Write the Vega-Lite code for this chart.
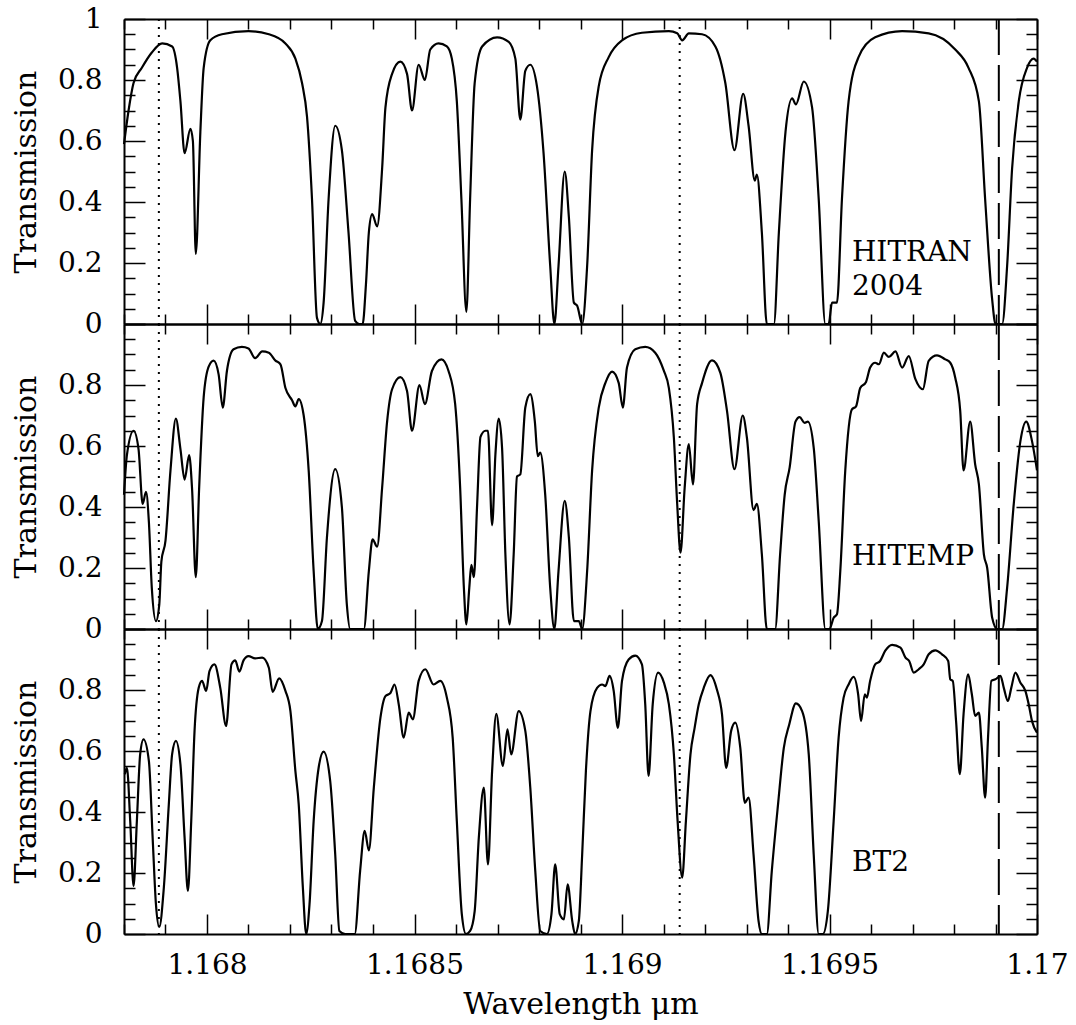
{
  "$schema": "https://vega.github.io/schema/vega-lite/v6.json",
  "padding": {"left": 11, "top": 5, "right": 5, "bottom": 2},
  "spacing": 0,
  "bounds": "flush",
  "config": {
    "view": {"stroke": null},
    "axis": {
      "labelFont": "DejaVu Serif", "titleFont": "DejaVu Serif",
      "labelFontSize": 28, "titleFontSize": 30, "titleFontWeight": "normal",
      "labelColor": "black", "titleColor": "black",
      "domainColor": "black", "domainWidth": 2, "tickColor": "black", "tickWidth": 1.5,
      "grid": false, "labelOverlap": false, "labelFlush": false, "labelBound": false
    }
  },
  "datasets": {
    "hitran": [
      {"w":1.1678,"t":0.59},{"w":1.167811,"t":0.70},{"w":1.167823,"t":0.79},{"w":1.167843,"t":0.84},{"w":1.167867,"t":0.89},{"w":1.167892,"t":0.92},{"w":1.167916,"t":0.91},{"w":1.167928,"t":0.84},{"w":1.167936,"t":0.73},{"w":1.167946,"t":0.56},{"w":1.16796,"t":0.64},{"w":1.167966,"t":0.60},{"w":1.167973,"t":0.23},{"w":1.167984,"t":0.63},{"w":1.167992,"t":0.84},{"w":1.168008,"t":0.93},{"w":1.168036,"t":0.95},{"w":1.1681,"t":0.96},{"w":1.168149,"t":0.95},{"w":1.168189,"t":0.92},{"w":1.168213,"t":0.87},{"w":1.168229,"t":0.79},{"w":1.168241,"t":0.68},{"w":1.168253,"t":0.41},{"w":1.168265,"t":0.02},{"w":1.168273,"t":0.0},{"w":1.168281,"t":0.07},{"w":1.168293,"t":0.41},{"w":1.168309,"t":0.65},{"w":1.168325,"t":0.57},{"w":1.168341,"t":0.30},{"w":1.168357,"t":0.01},{"w":1.168367,"t":0.0},{"w":1.168375,"t":0.0},{"w":1.168383,"t":0.13},{"w":1.16839,"t":0.30},{"w":1.168398,"t":0.36},{"w":1.16841,"t":0.32},{"w":1.168422,"t":0.51},{"w":1.16843,"t":0.71},{"w":1.168446,"t":0.82},{"w":1.168466,"t":0.86},{"w":1.168482,"t":0.82},{"w":1.168494,"t":0.70},{"w":1.16851,"t":0.85},{"w":1.168525,"t":0.80},{"w":1.168538,"t":0.90},{"w":1.168558,"t":0.92},{"w":1.168578,"t":0.91},{"w":1.16859,"t":0.87},{"w":1.168602,"t":0.73},{"w":1.168613,"t":0.41},{"w":1.168625,"t":0.04},{"w":1.168634,"t":0.41},{"w":1.168645,"t":0.79},{"w":1.168663,"t":0.91},{"w":1.168699,"t":0.94},{"w":1.168727,"t":0.925},{"w":1.168743,"t":0.87},{"w":1.168755,"t":0.67},{"w":1.168767,"t":0.83},{"w":1.168779,"t":0.85},{"w":1.168795,"t":0.78},{"w":1.168811,"t":0.56},{"w":1.168827,"t":0.19},{"w":1.168837,"t":0.0},{"w":1.168847,"t":0.19},{"w":1.168862,"t":0.50},{"w":1.168872,"t":0.35},{"w":1.168884,"t":0.07},{"w":1.168892,"t":0.06},{"w":1.168904,"t":0.0},{"w":1.168916,"t":0.19},{"w":1.168928,"t":0.57},{"w":1.168944,"t":0.78},{"w":1.168968,"t":0.875},{"w":1.169,"t":0.93},{"w":1.169048,"t":0.955},{"w":1.169113,"t":0.96},{"w":1.169133,"t":0.953},{"w":1.169145,"t":0.93},{"w":1.169161,"t":0.953},{"w":1.169193,"t":0.95},{"w":1.169225,"t":0.91},{"w":1.169249,"t":0.79},{"w":1.169271,"t":0.57},{"w":1.169292,"t":0.755},{"w":1.169305,"t":0.65},{"w":1.16932,"t":0.47},{"w":1.169325,"t":0.49},{"w":1.169337,"t":0.30},{"w":1.169349,"t":0.0},{"w":1.169366,"t":0.0},{"w":1.169378,"t":0.30},{"w":1.169394,"t":0.63},{"w":1.16941,"t":0.74},{"w":1.169419,"t":0.72},{"w":1.169438,"t":0.795},{"w":1.169458,"t":0.71},{"w":1.169474,"t":0.41},{"w":1.16949,"t":0.0},{"w":1.169498,"t":0.0},{"w":1.169506,"t":0.07},{"w":1.169518,"t":0.07},{"w":1.16953,"t":0.41},{"w":1.169546,"t":0.73},{"w":1.16957,"t":0.875},{"w":1.16961,"t":0.94},{"w":1.169675,"t":0.96},{"w":1.169739,"t":0.953},{"w":1.169803,"t":0.90},{"w":1.169835,"t":0.84},{"w":1.16986,"t":0.73},{"w":1.169875,"t":0.41},{"w":1.169892,"t":0.08},{"w":1.1699,"t":0.0},{"w":1.169916,"t":0.0},{"w":1.169928,"t":0.19},{"w":1.16994,"t":0.51},{"w":1.169956,"t":0.73},{"w":1.169976,"t":0.84},{"w":1.169992,"t":0.87},{"w":1.17,"t":0.86}
    ],
    "hitemp": [
      {"w":1.1678,"t":0.44},{"w":1.167807,"t":0.57},{"w":1.167823,"t":0.65},{"w":1.167835,"t":0.59},{"w":1.167845,"t":0.41},{"w":1.167853,"t":0.45},{"w":1.16786,"t":0.35},{"w":1.167867,"t":0.135},{"w":1.167877,"t":0.026},{"w":1.167885,"t":0.08},{"w":1.16789,"t":0.22},{"w":1.1679,"t":0.29},{"w":1.167912,"t":0.52},{"w":1.167925,"t":0.69},{"w":1.167936,"t":0.59},{"w":1.167946,"t":0.49},{"w":1.167957,"t":0.57},{"w":1.167964,"t":0.46},{"w":1.167973,"t":0.17},{"w":1.167981,"t":0.46},{"w":1.167992,"t":0.76},{"w":1.168004,"t":0.86},{"w":1.168016,"t":0.88},{"w":1.168028,"t":0.835},{"w":1.168038,"t":0.726},{"w":1.168048,"t":0.846},{"w":1.168064,"t":0.917},{"w":1.168084,"t":0.925},{"w":1.1681,"t":0.92},{"w":1.168116,"t":0.888},{"w":1.168133,"t":0.91},{"w":1.168149,"t":0.906},{"w":1.168165,"t":0.88},{"w":1.168177,"t":0.868},{"w":1.168189,"t":0.79},{"w":1.168205,"t":0.75},{"w":1.168213,"t":0.73},{"w":1.168221,"t":0.754},{"w":1.168233,"t":0.70},{"w":1.168245,"t":0.52},{"w":1.168257,"t":0.19},{"w":1.168267,"t":0.0},{"w":1.168277,"t":0.026},{"w":1.168289,"t":0.30},{"w":1.168309,"t":0.524},{"w":1.168325,"t":0.40},{"w":1.168337,"t":0.08},{"w":1.168345,"t":0.0},{"w":1.168357,"t":0.0},{"w":1.168378,"t":0.0},{"w":1.16839,"t":0.19},{"w":1.168399,"t":0.294},{"w":1.16841,"t":0.27},{"w":1.168422,"t":0.463},{"w":1.168434,"t":0.68},{"w":1.168446,"t":0.786},{"w":1.168466,"t":0.826},{"w":1.168482,"t":0.78},{"w":1.168494,"t":0.65},{"w":1.168512,"t":0.80},{"w":1.168525,"t":0.737},{"w":1.168542,"t":0.846},{"w":1.168565,"t":0.884},{"w":1.168582,"t":0.846},{"w":1.168598,"t":0.737},{"w":1.16861,"t":0.463},{"w":1.168619,"t":0.135},{"w":1.168625,"t":0.015},{"w":1.168632,"t":0.135},{"w":1.168637,"t":0.21},{"w":1.168643,"t":0.17},{"w":1.168651,"t":0.41},{"w":1.168659,"t":0.63},{"w":1.168671,"t":0.65},{"w":1.168677,"t":0.65},{"w":1.168687,"t":0.34},{"w":1.168695,"t":0.573},{"w":1.168703,"t":0.69},{"w":1.168711,"t":0.594},{"w":1.168719,"t":0.245},{"w":1.168729,"t":0.015},{"w":1.168739,"t":0.245},{"w":1.168747,"t":0.50},{"w":1.168755,"t":0.507},{"w":1.168767,"t":0.726},{"w":1.168779,"t":0.77},{"w":1.16879,"t":0.68},{"w":1.168797,"t":0.567},{"w":1.168803,"t":0.578},{"w":1.168815,"t":0.44},{"w":1.168827,"t":0.135},{"w":1.168837,"t":0.0},{"w":1.168847,"t":0.19},{"w":1.168862,"t":0.42},{"w":1.168872,"t":0.30},{"w":1.168884,"t":0.026},{"w":1.168896,"t":0.026},{"w":1.168904,"t":0.0},{"w":1.168916,"t":0.19},{"w":1.168928,"t":0.52},{"w":1.168944,"t":0.726},{"w":1.16896,"t":0.807},{"w":1.168976,"t":0.844},{"w":1.168992,"t":0.807},{"w":1.169002,"t":0.726},{"w":1.169012,"t":0.857},{"w":1.169032,"t":0.917},{"w":1.169056,"t":0.925},{"w":1.16908,"t":0.906},{"w":1.169101,"t":0.846},{"w":1.169113,"t":0.79},{"w":1.169125,"t":0.627},{"w":1.169133,"t":0.41},{"w":1.169141,"t":0.25},{"w":1.169151,"t":0.463},{"w":1.169161,"t":0.606},{"w":1.169171,"t":0.474},{"w":1.169181,"t":0.737},{"w":1.169193,"t":0.807},{"w":1.169217,"t":0.881},{"w":1.169237,"t":0.84},{"w":1.169253,"t":0.715},{"w":1.169271,"t":0.524},{"w":1.169291,"t":0.70},{"w":1.169301,"t":0.627},{"w":1.169317,"t":0.39},{"w":1.169325,"t":0.41},{"w":1.169337,"t":0.245},{"w":1.169349,"t":0.0},{"w":1.169369,"t":0.0},{"w":1.169381,"t":0.245},{"w":1.169392,"t":0.44},{"w":1.169404,"t":0.53},{"w":1.169418,"t":0.68},{"w":1.169428,"t":0.695},{"w":1.16944,"t":0.676},{"w":1.169448,"t":0.68},{"w":1.169462,"t":0.594},{"w":1.169474,"t":0.354},{"w":1.16949,"t":0.0},{"w":1.1695,"t":0.0},{"w":1.16951,"t":0.037},{"w":1.169518,"t":0.048},{"w":1.169526,"t":0.19},{"w":1.169538,"t":0.52},{"w":1.169554,"t":0.72},{"w":1.169564,"t":0.73},{"w":1.169574,"t":0.79},{"w":1.169588,"t":0.81},{"w":1.169598,"t":0.857},{"w":1.16961,"t":0.873},{"w":1.169619,"t":0.868},{"w":1.169631,"t":0.906},{"w":1.169643,"t":0.892},{"w":1.169659,"t":0.91},{"w":1.169675,"t":0.857},{"w":1.169691,"t":0.895},{"w":1.169707,"t":0.819},{"w":1.169725,"t":0.786},{"w":1.169739,"t":0.879},{"w":1.169759,"t":0.897},{"w":1.169779,"t":0.884},{"w":1.169791,"t":0.873},{"w":1.169803,"t":0.824},{"w":1.169815,"t":0.715},{"w":1.169823,"t":0.52},{"w":1.169839,"t":0.68},{"w":1.169851,"t":0.54},{"w":1.16986,"t":0.474},{"w":1.169872,"t":0.245},{"w":1.16988,"t":0.20},{"w":1.169892,"t":0.037},{"w":1.169904,"t":0.0},{"w":1.169916,"t":0.0},{"w":1.169928,"t":0.135},{"w":1.169944,"t":0.41},{"w":1.16996,"t":0.616},{"w":1.169974,"t":0.68},{"w":1.169988,"t":0.616},{"w":1.17,"t":0.52}
    ],
    "bt2": [
      {"w":1.167802,"t":0.524},{"w":1.167807,"t":0.545},{"w":1.167815,"t":0.37},{"w":1.167823,"t":0.157},{"w":1.167831,"t":0.37},{"w":1.167839,"t":0.59},{"w":1.167847,"t":0.638},{"w":1.16786,"t":0.567},{"w":1.167869,"t":0.316},{"w":1.167877,"t":0.097},{"w":1.167885,"t":0.023},{"w":1.167896,"t":0.152},{"w":1.167908,"t":0.425},{"w":1.167916,"t":0.59},{"w":1.167925,"t":0.633},{"w":1.167936,"t":0.556},{"w":1.167946,"t":0.316},{"w":1.167954,"t":0.141},{"w":1.167962,"t":0.37},{"w":1.16797,"t":0.666},{"w":1.16798,"t":0.807},{"w":1.167988,"t":0.83},{"w":1.167998,"t":0.797},{"w":1.168006,"t":0.862},{"w":1.168018,"t":0.884},{"w":1.168032,"t":0.807},{"w":1.168046,"t":0.682},{"w":1.168059,"t":0.884},{"w":1.168068,"t":0.897},{"w":1.168078,"t":0.86},{"w":1.168088,"t":0.897},{"w":1.1681,"t":0.911},{"w":1.168116,"t":0.904},{"w":1.168133,"t":0.906},{"w":1.168149,"t":0.873},{"w":1.168158,"t":0.794},{"w":1.168174,"t":0.838},{"w":1.168189,"t":0.797},{"w":1.168201,"t":0.731},{"w":1.168213,"t":0.534},{"w":1.168221,"t":0.425},{"w":1.168231,"t":0.152},{"w":1.168239,"t":0.0},{"w":1.168247,"t":0.097},{"w":1.168257,"t":0.37},{"w":1.168269,"t":0.545},{"w":1.168281,"t":0.598},{"w":1.168297,"t":0.50},{"w":1.168309,"t":0.26},{"w":1.168319,"t":0.01},{"w":1.168333,"t":0.0},{"w":1.168356,"t":0.0},{"w":1.168369,"t":0.207},{"w":1.16838,"t":0.338},{"w":1.16839,"t":0.274},{"w":1.168402,"t":0.48},{"w":1.168418,"t":0.71},{"w":1.16843,"t":0.78},{"w":1.168442,"t":0.79},{"w":1.168452,"t":0.818},{"w":1.168462,"t":0.753},{"w":1.168474,"t":0.644},{"w":1.168486,"t":0.726},{"w":1.168496,"t":0.704},{"w":1.16851,"t":0.83},{"w":1.168526,"t":0.868},{"w":1.168546,"t":0.818},{"w":1.168562,"t":0.83},{"w":1.168578,"t":0.775},{"w":1.168592,"t":0.644},{"w":1.168602,"t":0.37},{"w":1.168614,"t":0.065},{"w":1.168624,"t":0.0},{"w":1.168634,"t":0.01},{"w":1.168645,"t":0.075},{"w":1.168655,"t":0.316},{"w":1.168667,"t":0.48},{"w":1.168677,"t":0.228},{"w":1.168687,"t":0.534},{"w":1.168697,"t":0.722},{"w":1.168713,"t":0.551},{"w":1.168724,"t":0.671},{"w":1.168733,"t":0.589},{"w":1.168751,"t":0.731},{"w":1.168767,"t":0.666},{"w":1.168779,"t":0.48},{"w":1.168791,"t":0.207},{"w":1.168803,"t":0.01},{"w":1.168819,"t":0.0},{"w":1.16883,"t":0.065},{"w":1.168839,"t":0.228},{"w":1.16885,"t":0.065},{"w":1.16886,"t":0.048},{"w":1.168869,"t":0.163},{"w":1.16888,"t":0.043},{"w":1.168887,"t":0.0},{"w":1.168896,"t":0.043},{"w":1.168904,"t":0.26},{"w":1.168913,"t":0.534},{"w":1.168924,"t":0.731},{"w":1.16894,"t":0.807},{"w":1.168952,"t":0.818},{"w":1.16896,"t":0.813},{"w":1.16897,"t":0.846},{"w":1.16898,"t":0.797},{"w":1.16899,"t":0.676},{"w":1.169,"t":0.83},{"w":1.169016,"t":0.9},{"w":1.169032,"t":0.913},{"w":1.169048,"t":0.884},{"w":1.169056,"t":0.753},{"w":1.169064,"t":0.518},{"w":1.169074,"t":0.753},{"w":1.169087,"t":0.857},{"w":1.169101,"t":0.824},{"w":1.169113,"t":0.753},{"w":1.169125,"t":0.589},{"w":1.169134,"t":0.37},{"w":1.169145,"t":0.185},{"w":1.169154,"t":0.37},{"w":1.169165,"t":0.589},{"w":1.169175,"t":0.676},{"w":1.169185,"t":0.753},{"w":1.169197,"t":0.807},{"w":1.169213,"t":0.849},{"w":1.169229,"t":0.8},{"w":1.169241,"t":0.72},{"w":1.169251,"t":0.545},{"w":1.169263,"t":0.666},{"w":1.169273,"t":0.693},{"w":1.169285,"t":0.611},{"w":1.169296,"t":0.43},{"w":1.169305,"t":0.447},{"w":1.169317,"t":0.26},{"w":1.169329,"t":0.043},{"w":1.169337,"t":0.0},{"w":1.169349,"t":0.0},{"w":1.169361,"t":0.207},{"w":1.169376,"t":0.425},{"w":1.16939,"t":0.611},{"w":1.169403,"t":0.687},{"w":1.169419,"t":0.756},{"w":1.169434,"t":0.731},{"w":1.16945,"t":0.589},{"w":1.169462,"t":0.26},{"w":1.169474,"t":0.0},{"w":1.169484,"t":0.0},{"w":1.169496,"t":0.075},{"w":1.16951,"t":0.37},{"w":1.169522,"t":0.644},{"w":1.169534,"t":0.775},{"w":1.169546,"t":0.818},{"w":1.169558,"t":0.843},{"w":1.169569,"t":0.786},{"w":1.169576,"t":0.698},{"w":1.169585,"t":0.786},{"w":1.16959,"t":0.775},{"w":1.169598,"t":0.83},{"w":1.16961,"t":0.884},{"w":1.169622,"t":0.895},{"w":1.169634,"t":0.928},{"w":1.169651,"t":0.948},{"w":1.169671,"t":0.939},{"w":1.169683,"t":0.906},{"w":1.169692,"t":0.895},{"w":1.169703,"t":0.857},{"w":1.169715,"t":0.868},{"w":1.169727,"t":0.884},{"w":1.169739,"t":0.917},{"w":1.169755,"t":0.93},{"w":1.169771,"t":0.917},{"w":1.169786,"t":0.895},{"w":1.169791,"t":0.835},{"w":1.169797,"t":0.83},{"w":1.169805,"t":0.698},{"w":1.169814,"t":0.524},{"w":1.169823,"t":0.72},{"w":1.169834,"t":0.851},{"w":1.169843,"t":0.786},{"w":1.169851,"t":0.715},{"w":1.16986,"t":0.726},{"w":1.169867,"t":0.611},{"w":1.169875,"t":0.447},{"w":1.169882,"t":0.644},{"w":1.16989,"t":0.83},{"w":1.1699,"t":0.835},{"w":1.169912,"t":0.846},{"w":1.16992,"t":0.807},{"w":1.16993,"t":0.764},{"w":1.169938,"t":0.807},{"w":1.169948,"t":0.857},{"w":1.16996,"t":0.824},{"w":1.169972,"t":0.797},{"w":1.16998,"t":0.753},{"w":1.169988,"t":0.698},{"w":1.17,"t":0.66}
    ],
    "vlines": [
      {"w": 1.167884, "kind": "dotted"},
      {"w": 1.169139, "kind": "dotted"},
      {"w": 1.169908, "kind": "dashed"}
    ],
    "labels": [
      {"panel": "hitran", "w": 1.169554, "t": 0.233, "label": "HITRAN"},
      {"panel": "hitran", "w": 1.169554, "t": 0.121, "label": "2004"},
      {"panel": "hitemp", "w": 1.169554, "t": 0.236, "label": "HITEMP"},
      {"panel": "bt2", "w": 1.169554, "t": 0.233, "label": "BT2"}
    ]
  },
  "vconcat": [
    {
      "width": 913, "height": 305,
      "layer": [
        {
          "data": {"name": "hitran"},
          "mark": {"type": "line", "color": "black", "strokeWidth": 2.2, "interpolate": "monotone"},
          "encoding": {
            "x": {"field": "w", "type": "quantitative", "scale": {"domain": [1.1678, 1.17], "nice": false, "zero": false},
              "axis": {"orient": "bottom", "values": [1.1678,1.1679,1.168,1.1681,1.1682,1.1683,1.1684,1.1685,1.1686,1.1687,1.1688,1.1689,1.169,1.1691,1.1692,1.1693,1.1694,1.1695,1.1696,1.1697,1.1698,1.1699,1.17], "labels": false, "title": null,
                "tickSize": {"condition": {"test": "abs(datum.value*2000-round(datum.value*2000))<0.01", "value": -20}, "value": -10}}},
            "y": {"field": "t", "type": "quantitative", "scale": {"domain": [0, 1], "nice": false, "zero": false},
              "axis": {"orient": "left", "values": [0,0.05,0.1,0.15,0.2,0.25,0.3,0.35,0.4,0.45,0.5,0.55,0.6,0.65,0.7,0.75,0.8,0.85,0.9,0.95,1], "title": "Transmission", "titlePadding": 16,
                "labelExpr": "abs(datum.value*5-round(datum.value*5))<0.01 ? format(datum.value,'.1~f') : ''", "labelPadding": 43, "labelAlign": "right", "labelBaseline": "middle",
                "tickSize": {"condition": {"test": "abs(datum.value*5-round(datum.value*5))<0.01", "value": -21}, "value": -11}}}
          }
        },
        {
          "data": {"name": "vlines"},
          "mark": {"type": "rule", "color": "black", "strokeWidth": 2},
          "encoding": {
            "x": {"field": "w", "type": "quantitative", "scale": {"domain": [1.1678, 1.17], "nice": false, "zero": false}, "axis": null},
            "strokeDash": {"field": "kind", "type": "nominal", "scale": {"domain": ["dotted", "dashed"], "range": [[2, 6], [36, 10]]}, "legend": null}
          }
        },
        {
          "data": {"name": "labels"},
          "transform": [{"filter": "datum.panel == 'hitran'"}],
          "mark": {"type": "text", "align": "left", "baseline": "middle", "fontSize": 28, "font": "DejaVu Serif", "color": "black"},
          "encoding": {
            "x": {"field": "w", "type": "quantitative", "scale": {"domain": [1.1678, 1.17], "nice": false, "zero": false},
              "axis": {"orient": "top", "values": [1.1678,1.1679,1.168,1.1681,1.1682,1.1683,1.1684,1.1685,1.1686,1.1687,1.1688,1.1689,1.169,1.1691,1.1692,1.1693,1.1694,1.1695,1.1696,1.1697,1.1698,1.1699,1.17], "labels": false, "title": null,
                "tickSize": {"condition": {"test": "abs(datum.value*2000-round(datum.value*2000))<0.01", "value": -20}, "value": -10}}},
            "y": {"field": "t", "type": "quantitative", "scale": {"domain": [0, 1], "nice": false, "zero": false},
              "axis": {"orient": "right", "values": [0,0.05,0.1,0.15,0.2,0.25,0.3,0.35,0.4,0.45,0.5,0.55,0.6,0.65,0.7,0.75,0.8,0.85,0.9,0.95,1], "labels": false, "title": null,
                "tickSize": {"condition": {"test": "abs(datum.value*5-round(datum.value*5))<0.01", "value": -21}, "value": -11}}},
            "text": {"field": "label"}
          }
        }
      ],
      "resolve": {"axis": {"x": "independent", "y": "independent"}}
    },
    {
      "width": 913, "height": 305,
      "layer": [
        {
          "data": {"name": "hitemp"},
          "mark": {"type": "line", "color": "black", "strokeWidth": 2.2, "interpolate": "monotone"},
          "encoding": {
            "x": {"field": "w", "type": "quantitative", "scale": {"domain": [1.1678, 1.17], "nice": false, "zero": false},
              "axis": {"orient": "bottom", "values": [1.1678,1.1679,1.168,1.1681,1.1682,1.1683,1.1684,1.1685,1.1686,1.1687,1.1688,1.1689,1.169,1.1691,1.1692,1.1693,1.1694,1.1695,1.1696,1.1697,1.1698,1.1699,1.17], "labels": false, "title": null,
                "tickSize": {"condition": {"test": "abs(datum.value*2000-round(datum.value*2000))<0.01", "value": -20}, "value": -10}}},
            "y": {"field": "t", "type": "quantitative", "scale": {"domain": [0, 1], "nice": false, "zero": false},
              "axis": {"orient": "left", "values": [0,0.05,0.1,0.15,0.2,0.25,0.3,0.35,0.4,0.45,0.5,0.55,0.6,0.65,0.7,0.75,0.8,0.85,0.9,0.95,1], "title": "Transmission", "titlePadding": 16,
                "labelExpr": "abs(datum.value*5-round(datum.value*5))<0.01 && datum.value < 0.99 ? format(datum.value,'.1~f') : ''", "labelPadding": 43, "labelAlign": "right", "labelBaseline": "middle",
                "tickSize": {"condition": {"test": "abs(datum.value*5-round(datum.value*5))<0.01", "value": -21}, "value": -11}}}
          }
        },
        {
          "data": {"name": "vlines"},
          "mark": {"type": "rule", "color": "black", "strokeWidth": 2},
          "encoding": {
            "x": {"field": "w", "type": "quantitative", "scale": {"domain": [1.1678, 1.17], "nice": false, "zero": false}, "axis": null},
            "strokeDash": {"field": "kind", "type": "nominal", "scale": {"domain": ["dotted", "dashed"], "range": [[2, 6], [36, 10]]}, "legend": null}
          }
        },
        {
          "data": {"name": "labels"},
          "transform": [{"filter": "datum.panel == 'hitemp'"}],
          "mark": {"type": "text", "align": "left", "baseline": "middle", "fontSize": 28, "font": "DejaVu Serif", "color": "black"},
          "encoding": {
            "x": {"field": "w", "type": "quantitative", "scale": {"domain": [1.1678, 1.17], "nice": false, "zero": false},
              "axis": {"orient": "top", "values": [1.1678,1.1679,1.168,1.1681,1.1682,1.1683,1.1684,1.1685,1.1686,1.1687,1.1688,1.1689,1.169,1.1691,1.1692,1.1693,1.1694,1.1695,1.1696,1.1697,1.1698,1.1699,1.17], "labels": false, "title": null,
                "tickSize": {"condition": {"test": "abs(datum.value*2000-round(datum.value*2000))<0.01", "value": -20}, "value": -10}}},
            "y": {"field": "t", "type": "quantitative", "scale": {"domain": [0, 1], "nice": false, "zero": false},
              "axis": {"orient": "right", "values": [0,0.05,0.1,0.15,0.2,0.25,0.3,0.35,0.4,0.45,0.5,0.55,0.6,0.65,0.7,0.75,0.8,0.85,0.9,0.95,1], "labels": false, "title": null,
                "tickSize": {"condition": {"test": "abs(datum.value*5-round(datum.value*5))<0.01", "value": -21}, "value": -11}}},
            "text": {"field": "label"}
          }
        }
      ],
      "resolve": {"axis": {"x": "independent", "y": "independent"}}
    },
    {
      "width": 913, "height": 305,
      "layer": [
        {
          "data": {"name": "bt2"},
          "mark": {"type": "line", "color": "black", "strokeWidth": 2.2, "interpolate": "monotone"},
          "encoding": {
            "x": {"field": "w", "type": "quantitative", "scale": {"domain": [1.1678, 1.17], "nice": false, "zero": false},
              "axis": {"orient": "bottom", "values": [1.1678,1.1679,1.168,1.1681,1.1682,1.1683,1.1684,1.1685,1.1686,1.1687,1.1688,1.1689,1.169,1.1691,1.1692,1.1693,1.1694,1.1695,1.1696,1.1697,1.1698,1.1699,1.17],
                "title": "Wavelength μm", "titlePadding": 0,
                "labelExpr": "abs(datum.value*2000-round(datum.value*2000))<0.01 ? format(datum.value,'.4~f') : ''", "labelPadding": 37,
                "tickSize": {"condition": {"test": "abs(datum.value*2000-round(datum.value*2000))<0.01", "value": -20}, "value": -10}}},
            "y": {"field": "t", "type": "quantitative", "scale": {"domain": [0, 1], "nice": false, "zero": false},
              "axis": {"orient": "left", "values": [0,0.05,0.1,0.15,0.2,0.25,0.3,0.35,0.4,0.45,0.5,0.55,0.6,0.65,0.7,0.75,0.8,0.85,0.9,0.95,1], "title": "Transmission", "titlePadding": 16,
                "labelExpr": "abs(datum.value*5-round(datum.value*5))<0.01 && datum.value < 0.99 ? format(datum.value,'.1~f') : ''", "labelPadding": 43, "labelAlign": "right", "labelBaseline": "middle",
                "tickSize": {"condition": {"test": "abs(datum.value*5-round(datum.value*5))<0.01", "value": -21}, "value": -11}}}
          }
        },
        {
          "data": {"name": "vlines"},
          "mark": {"type": "rule", "color": "black", "strokeWidth": 2},
          "encoding": {
            "x": {"field": "w", "type": "quantitative", "scale": {"domain": [1.1678, 1.17], "nice": false, "zero": false}, "axis": null},
            "strokeDash": {"field": "kind", "type": "nominal", "scale": {"domain": ["dotted", "dashed"], "range": [[2, 6], [36, 10]]}, "legend": null}
          }
        },
        {
          "data": {"name": "labels"},
          "transform": [{"filter": "datum.panel == 'bt2'"}],
          "mark": {"type": "text", "align": "left", "baseline": "middle", "fontSize": 28, "font": "DejaVu Serif", "color": "black"},
          "encoding": {
            "x": {"field": "w", "type": "quantitative", "scale": {"domain": [1.1678, 1.17], "nice": false, "zero": false},
              "axis": {"orient": "top", "values": [1.1678,1.1679,1.168,1.1681,1.1682,1.1683,1.1684,1.1685,1.1686,1.1687,1.1688,1.1689,1.169,1.1691,1.1692,1.1693,1.1694,1.1695,1.1696,1.1697,1.1698,1.1699,1.17], "labels": false, "title": null,
                "tickSize": {"condition": {"test": "abs(datum.value*2000-round(datum.value*2000))<0.01", "value": -20}, "value": -10}}},
            "y": {"field": "t", "type": "quantitative", "scale": {"domain": [0, 1], "nice": false, "zero": false},
              "axis": {"orient": "right", "values": [0,0.05,0.1,0.15,0.2,0.25,0.3,0.35,0.4,0.45,0.5,0.55,0.6,0.65,0.7,0.75,0.8,0.85,0.9,0.95,1], "labels": false, "title": null,
                "tickSize": {"condition": {"test": "abs(datum.value*5-round(datum.value*5))<0.01", "value": -21}, "value": -11}}},
            "text": {"field": "label"}
          }
        }
      ],
      "resolve": {"axis": {"x": "independent", "y": "independent"}}
    }
  ]
}
